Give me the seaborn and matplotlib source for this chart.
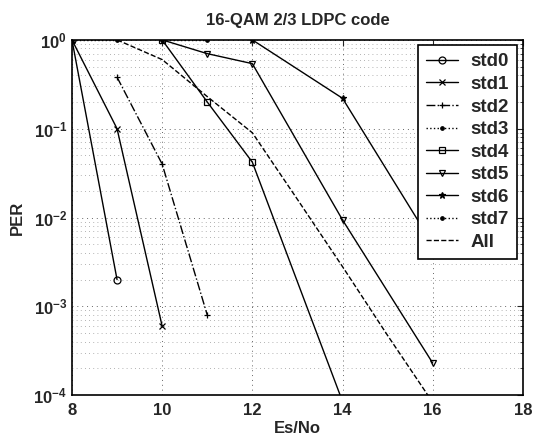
"""
16-QAM 2/3 LDPC code PER curves (std0..std7, All)
"""

import matplotlib
matplotlib.use('Agg')
import matplotlib.pyplot as plt
import matplotlib.ticker as mticker
import seaborn as sns
import numpy as np
import pandas as pd

# Es/No (dB) and PER values
std0_x = [8, 9]
std0_y = [1.0, 2.0e-3]
std1_x = [8, 9, 10]
std1_y = [1.0, 0.1, 6.0e-4]
std2_x = [9, 10, 11]
std2_y = [0.38, 0.04, 8.0e-4]
std3_x = [8, 9]
std3_y = [1.0, 1.0]
std4_x = [10, 11, 12, 14]
std4_y = [1.0, 0.2, 0.042, 8.5e-5]
std5_x = [10, 11, 12, 14, 16]
std5_y = [1.0, 0.7, 0.54, 9.4e-3, 2.3e-4]
std6_x = [12, 14, 16]
std6_y = [1.0, 0.22, 5.0e-3]
std7_x = [10, 11]
std7_y = [1.0, 1.0]
all_x = [9, 10, 11, 12, 13, 14, 15, 16]
all_y = [1.0, 0.6, 0.23, 0.09, 0.016, 2.8e-3, 4.7e-4, 8.3e-5]

x_ticks = [8, 10, 12, 14, 16, 18]
y_ticks = [1e-4, 1e-3, 1e-2, 1e-1, 1e0]
y_tick_labels = [r'$\mathbf{10^{-4}}$', r'$\mathbf{10^{-3}}$', r'$\mathbf{10^{-2}}$',
                 r'$\mathbf{10^{-1}}$', r'$\mathbf{10^{0}}$']

series = [
    ('std0', std0_x, std0_y, 'o', '-'),
    ('std1', std1_x, std1_y, 'x', '-'),
    ('std2', std2_x, std2_y, '+', '-.'),
    ('std3', std3_x, std3_y, '.', ':'),
    ('std4', std4_x, std4_y, 's', '-'),
    ('std5', std5_x, std5_y, 'v', '-'),
    ('std6', std6_x, std6_y, '*', '-'),
    ('std7', std7_x, std7_y, '.', ':'),
    ('All', all_x, all_y, None, '--'),
]


def main():
    sns.set_style('white')
    plt.rcParams['font.family'] = ['Liberation Sans', 'DejaVu Sans']
    plt.rcParams['font.weight'] = 'bold'
    plt.rcParams['mathtext.fontset'] = 'custom'
    plt.rcParams['mathtext.bf'] = 'Liberation Sans:bold'
    plt.rcParams['mathtext.rm'] = 'Liberation Sans:bold'

    fig = plt.figure(figsize=(5.33, 4.43), dpi=100)
    ax = fig.add_axes([0.135, 0.108, 0.846, 0.802])

    for name, xs, ys, marker, ls in series:
        df = pd.DataFrame({'EsNo': xs, 'PER': ys})
        sns.lineplot(data=df, x='EsNo', y='PER', ax=ax, color='black',
                     linewidth=1.0, linestyle=ls, marker=marker,
                     markersize=5, markerfacecolor='none' if marker in ('o', 's', 'v') else 'black',
                     markeredgecolor='black', markeredgewidth=0.9,
                     label=name, sort=False, estimator=None)

    ax.set_yscale('log')
    ax.set_xlim(8, 18)
    ax.set_ylim(1e-4, 1)
    ax.set_xticks(x_ticks)
    ax.set_xticklabels([str(t) for t in x_ticks])
    ax.yaxis.set_major_locator(mticker.FixedLocator(y_ticks))
    ax.yaxis.set_major_formatter(mticker.FixedFormatter(y_tick_labels))
    ax.yaxis.set_minor_locator(mticker.LogLocator(base=10, subs=np.arange(2, 10), numticks=20))
    ax.yaxis.set_minor_formatter(mticker.NullFormatter())

    ax.grid(True, which='major', linestyle=(0, (1, 4)), color='black', linewidth=0.7, alpha=0.6)
    ax.grid(True, which='minor', axis='y', linestyle=(0, (1, 4)), color='black', linewidth=0.6, alpha=0.4)
    ax.tick_params(direction='in', which='both', top=True, right=True,
                   labelsize=12, length=4)
    ax.tick_params(axis='x', pad=6)
    ax.tick_params(which='minor', length=2)
    for spine in ax.spines.values():
        spine.set_color('black')
        spine.set_linewidth(1.2)

    ax.set_title('16-QAM 2/3 LDPC code', fontsize=12, fontweight='bold', pad=11)
    ax.set_xlabel('Es/No', fontsize=12, fontweight='bold', labelpad=2)
    ax.set_ylabel('PER', fontsize=12, fontweight='bold', labelpad=6)

    leg = ax.legend(loc='upper right', bbox_to_anchor=(0.987, 0.986),
                    fontsize=13.5, frameon=True, fancybox=False, framealpha=1,
                    edgecolor='black', labelspacing=0.29, handlelength=1.7,
                    borderpad=0.45, handletextpad=0.65, borderaxespad=0)
    leg.get_frame().set_linewidth(1.2)

    fig.savefig('out.png', dpi=100)
    plt.close(fig)


if __name__ == '__main__':
    main()
